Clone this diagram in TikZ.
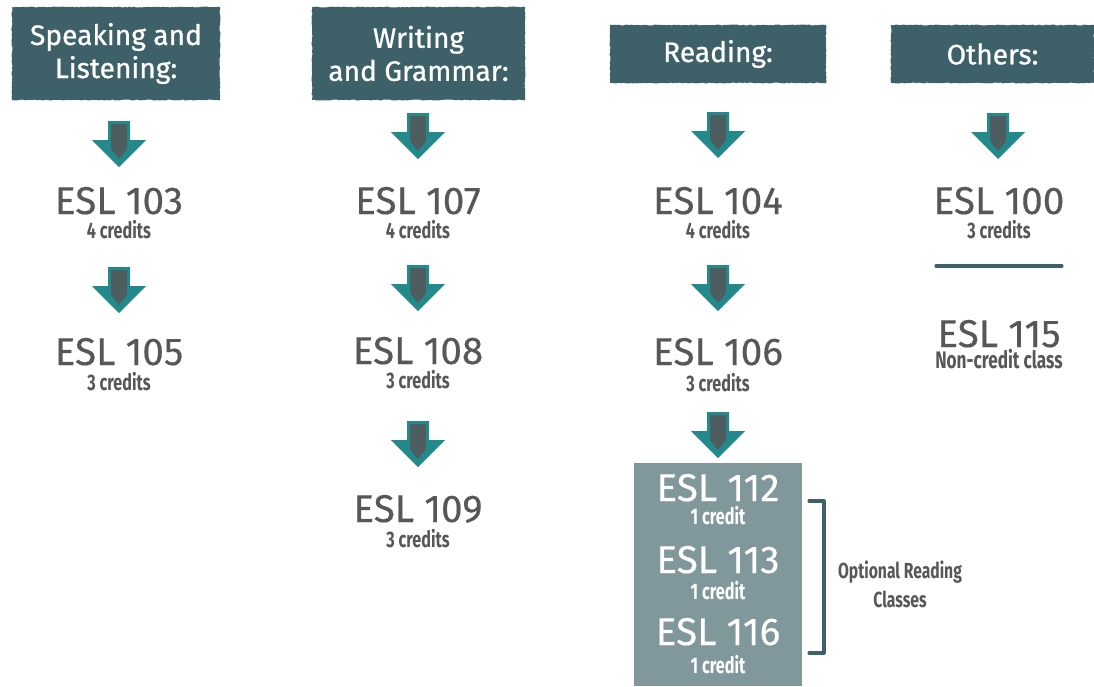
\documentclass[tikz,border=0pt]{standalone}
\usepackage{fontspec}
\setmainfont{Fira Sans}[FakeBold=0.35]
\newfontfamily\narrowfont{Fira Sans}[FakeStretch=0.72]
\newfontfamily\headfont{Fira Sans}[FakeBold=0.8]
\usetikzlibrary{positioning,decorations.pathmorphing}

\definecolor{headteal}{HTML}{3E6169}
\definecolor{arrowteal}{HTML}{23898B}
\definecolor{shaftgray}{HTML}{4E5D60}
\definecolor{textgray}{HTML}{575757}
\definecolor{boxgray}{HTML}{80989B}

\tikzset{
  head/.style={fill=headteal,text=white,inner sep=0pt,align=center,
    font=\headfont\fontsize{20}{23.5}\selectfont,
    decorate,decoration={random steps,segment length=1.5pt,amplitude=0.35pt}},
  course/.style={anchor=base,inner sep=0pt,text=textgray,font=\fontsize{27.5}{30}\selectfont},
  credit/.style={anchor=base,inner sep=0pt,text=textgray,font=\narrowfont\bfseries\fontsize{16}{18}\selectfont},
  boxcourse/.style={course,text=white},
  boxcredit/.style={credit,text=white},
  bracket/.style={headteal,line width=2.2pt,line cap=round,line join=round},
  downarrow/.pic={
    \fill[arrowteal] (-11,0) -- (11,0) -- (11,19) -- (27,19) -- (0,46) -- (-27,19) -- (-11,19) -- cycle;
    \fill[shaftgray] (-8,3) -- (8,3) -- (8,28) -- (0,38) -- (-8,28) -- cycle;
  }
}

\begin{document}
\begin{tikzpicture}[x=0.025cm,y=-0.025cm]
  \useasboundingbox (0,0) rectangle (1094,686);

  % headers
  \node[head,minimum width=5.2cm,minimum height=2.325cm] (sl) at (116,53.5) {Speaking and\\Listening:};
  \node[head,minimum width=5.325cm,minimum height=2.325cm] (wg) at (418.5,53.5) {Writing\\and Grammar:};
  \node[head,minimum width=5.4cm,minimum height=1.45cm] (rd) at (718,54) {Reading:};
  \node[head,minimum width=5.075cm,minimum height=1.45cm] (ot) at (992.5,54) {Others:};

  % speaking and listening
  \pic at (119,121) {downarrow};
  \node[course] (e103) at (119,214) {ESL 103};
  \node[credit] (c103) at (119,238) {4 credits};
  \pic at (119,267) {downarrow};
  \node[course] (e105) at (119,365) {ESL 105};
  \node[credit] (c105) at (119,390) {3 credits};

  % writing and grammar
  \pic at (418,113) {downarrow};
  \node[course] (e107) at (418,214) {ESL 107};
  \node[credit] (c107) at (418,238) {4 credits};
  \pic at (418,265) {downarrow};
  \node[course] (e108) at (418,364) {ESL 108};
  \node[credit] (c108) at (418,388) {3 credits};
  \pic at (418,421) {downarrow};
  \node[course] (e109) at (418,522) {ESL 109};
  \node[credit] (c109) at (418,547) {3 credits};

  % reading
  \pic at (718,112) {downarrow};
  \node[course] (e104) at (718,214) {ESL 104};
  \node[credit] (c104) at (718,238) {4 credits};
  \pic at (718,265) {downarrow};
  \node[course] (e106) at (718,365) {ESL 106};
  \node[credit] (c106) at (718,391) {3 credits};
  \pic at (718,412) {downarrow};

  \fill[boxgray] (634,463) rectangle (802,686);
  \node[boxcourse] (e112) at (718,501) {ESL 112};
  \node[boxcredit] (c112) at (718,524) {1 credit};
  \node[boxcourse] (e113) at (718,573) {ESL 113};
  \node[boxcredit] (c113) at (718,599) {1 credit};
  \node[boxcourse] (e116) at (718,645) {ESL 116};
  \node[boxcredit] (c116) at (718,673) {1 credit};

  \coordinate (brtop) at (809,501);
  \coordinate (brbot) at (809,653);
  \draw[bracket] (brtop) -- ++(15,0) |- (brbot);
  \node[credit,anchor=center,align=center,font=\narrowfont\bfseries\fontsize{15.5}{20.6}\selectfont] (opt) at (900,584) {Optional Reading\\Classes};

  % others
  \pic at (998,113) {downarrow};
  \node[course] (e100) at (999,214) {ESL 100};
  \node[credit] (c100) at (999,238) {3 credits};
  \coordinate (lnl) at (936,266);
  \coordinate (lnr) at (1062,266);
  \draw[bracket] (lnl) -- (lnr);
  \node[course] (e115) at (999,347) {ESL 115};
  \node[credit,font=\narrowfont\bfseries\fontsize{17}{18}\selectfont] (c115) at (999,368) {Non-credit class};
\end{tikzpicture}
\end{document}
